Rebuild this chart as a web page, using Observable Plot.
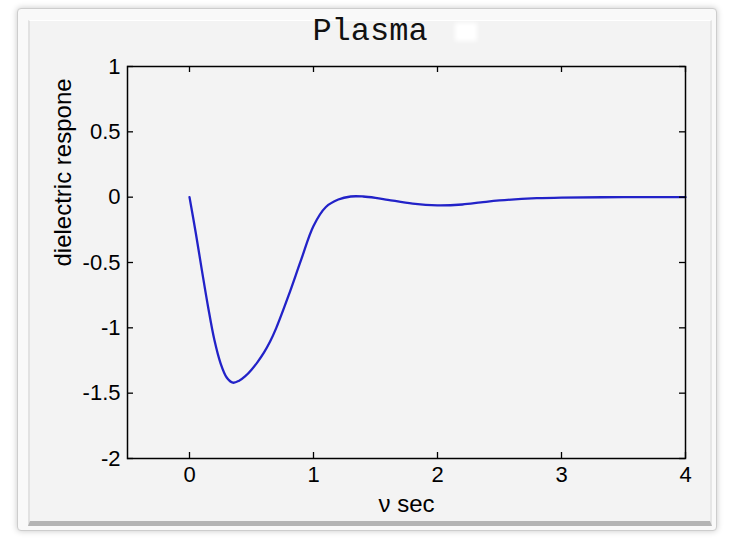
<!DOCTYPE html>
<html>
<head>
<meta charset="utf-8">
<script src="https://cdn.jsdelivr.net/npm/d3@7"></script>
<script src="https://cdn.jsdelivr.net/npm/@observablehq/plot@0.6"></script>
<style>
  html, body { margin: 0; padding: 0; background: #ffffff; }
  body { width: 730px; height: 539px; overflow: hidden; position: relative; font-family: "Liberation Sans", Arial, sans-serif; }
  #outer { position: absolute; left: 17px; top: 8px; width: 700px; height: 523px; background: #f9f9f9; border: 1px solid #cdcdcd; border-radius: 4px; box-shadow: 0 0 6px rgba(0,0,0,0.22); box-sizing: border-box; }
  #inner { position: absolute; left: 28px; top: 20px; width: 684px; height: 506px; background: #f3f3f3; border-left: 2px solid #e2e2e2; border-top: 1px solid #ffffff; border-right: 2px solid #e6e6e6; border-bottom: 5px solid #b4b4b4; box-sizing: border-box; }
  #title { position: absolute; left: 270px; width: 200px; top: 16px; text-align: center; font-family: "Liberation Mono", "Courier New", monospace; font-size: 32px; line-height: 32px; color: #111; }
  #blot { position: absolute; left: 455px; top: 23px; width: 22px; height: 18px; background: #ffffff; filter: blur(2px); }
  #chart { position: absolute; left: 0; top: 0; }
</style>
</head>
<body>
<div id="outer"></div>
<div id="inner"></div>
<div id="title">Plasma</div>
<div id="blot"></div>
<div id="chart"></div>
<script>
// time (x) and dielectric response (y)
const tValues = [0, 0.05, 0.1, 0.15, 0.2, 0.25, 0.3, 0.35, 0.4, 0.45, 0.5, 0.55, 0.6, 0.65, 0.7, 0.8, 0.9, 1.0, 1.1, 1.2, 1.3, 1.4, 1.5, 1.6, 1.8, 2.0, 2.2, 2.35, 2.5, 2.8, 3.0, 3.5, 4.0];
const responseValues = [0, -0.27, -0.56, -0.84, -1.09, -1.27, -1.38, -1.42, -1.405, -1.37, -1.32, -1.26, -1.19, -1.105, -1.0, -0.75, -0.48, -0.22, -0.075, -0.018, 0.005, 0.005, -0.005, -0.02, -0.05, -0.063, -0.056, -0.04, -0.025, -0.008, -0.003, 0, 0];
const xTicks = [0, 1, 2, 3, 4];
const yTicks = [-2, -1.5, -1, -0.5, 0, 0.5, 1];
const xLabel = "ν sec";
const yLabel = "dielectric respone";

const data = tValues.map((t, i) => ({t, v: responseValues[i]}));

const W = 730, H = 539, mL = 127, mR = 45, mT = 66, mB = 81;
const innerW = W - mL - mR, innerH = H - mT - mB;
const tickLen = 6;

const chart = Plot.plot({
  width: W, height: H,
  marginLeft: mL, marginRight: mR, marginTop: mT, marginBottom: mB,
  style: { background: "transparent", fontFamily: "'Liberation Sans', Arial, sans-serif", color: "#000", overflow: "visible" },
  x: { domain: [-0.5, 4] },
  y: { domain: [-2, 1] },
  marks: [
    Plot.line(data, { x: "t", y: "v", stroke: "#2222c8", strokeWidth: 2.3, curve: "catmull-rom" }),
    Plot.tickX(xTicks, { x: d => d, insetTop: innerH - tickLen, stroke: "#000", strokeWidth: 1.3 }),
    Plot.tickX(xTicks, { x: d => d, insetBottom: innerH - tickLen, stroke: "#000", strokeWidth: 1.3 }),
    Plot.tickY(yTicks, { y: d => d, insetRight: innerW - tickLen, stroke: "#000", strokeWidth: 1.3 }),
    Plot.tickY(yTicks, { y: d => d, insetLeft: innerW - tickLen, stroke: "#000", strokeWidth: 1.3 }),
    Plot.frame({ stroke: "#000", strokeWidth: 1.5 }),
    Plot.axisX({ ticks: xTicks, tickSize: 0, tickPadding: 8, fontSize: 22, tickFormat: d => String(d), label: null }),
    Plot.axisY({ ticks: yTicks, tickSize: 0, tickPadding: 7, fontSize: 22, tickFormat: d => String(d), label: null }),
    Plot.text([xLabel], { text: d => d, frameAnchor: "bottom", dy: 46, fontSize: 24, lineAnchor: "middle", fill: "#000" }),
    Plot.text([yLabel], { text: d => d, frameAnchor: "left", dx: -64, dy: 4, rotate: -90, fontSize: 24, lineAnchor: "middle", fill: "#000" })
  ]
});
document.getElementById("chart").appendChild(chart);
</script>
</body>
</html>
